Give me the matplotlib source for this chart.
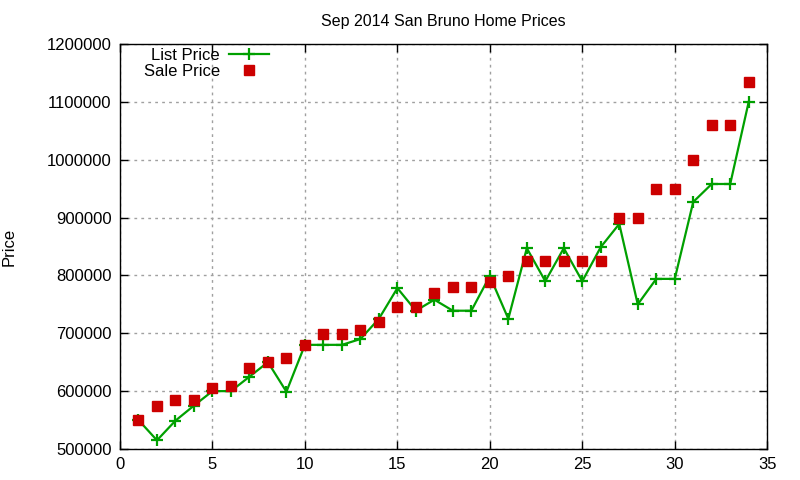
import matplotlib
matplotlib.use("Agg")
import matplotlib.pyplot as plt

plt.rcParams['font.family'] = ['Liberation Sans', 'DejaVu Sans']

x = list(range(1, 35))
list_price = [550000, 515000, 549000, 575000, 600000, 600000, 625000, 650000, 599000, 680000,
              680000, 680000, 690000, 725000, 778000, 739000, 758000, 739000, 739000, 799000,
              725000, 847000, 790000, 847000, 790000, 849000, 889000, 750000, 794000, 794000,
              927000, 958000, 958000, 1100000]
sale_price = [550000, 575000, 585000, 585000, 605000, 609000, 640000, 650000, 658000, 680000,
              699000, 699000, 705000, 720000, 745000, 745000, 769000, 780000, 780000, 789000,
              799000, 825000, 825000, 825000, 825000, 825000, 900000, 900000, 950000, 950000,
              1000000, 1060000, 1060000, 1135000]
xticks = [0, 5, 10, 15, 20, 25, 30, 35]
yticks = [500000, 600000, 700000, 800000, 900000, 1000000, 1100000, 1200000]

fig = plt.figure(figsize=(8, 4.8), dpi=100)
ax = fig.add_axes([0.15, 0.0646, 0.809, 0.8438])

ax.plot(x, list_price, color='#00a000', lw=1.6, marker='+', ms=9, mew=1.6, label='List Price')
ax.plot(x, sale_price, ls='none', color='#cc0000', marker='s', ms=7, label='Sale Price')

ax.set_xlim(0, 35)
ax.set_ylim(500000, 1200000)
ax.set_xticks(xticks)
ax.set_yticks(yticks)
ax.set_xticklabels([str(t) for t in xticks])
ax.set_yticklabels([str(t) for t in yticks])
ax.tick_params(direction='in', top=True, right=True, labelsize=12, length=6, width=1, pad=6)
ax.grid(True, color='#a0a0a0', ls=(0, (2, 3)), lw=1)
for s in ax.spines.values():
    s.set_linewidth(1)

ax.set_title('Sep 2014 San Bruno Home Prices', fontsize=11.5, pad=13)
ax.set_ylabel('Price', fontsize=12, labelpad=22)

leg = ax.legend(loc='upper left', bbox_to_anchor=(0.019, 1.02), frameon=False, markerfirst=False,
                fontsize=12, handlelength=2.4, handletextpad=0.55, labelspacing=0.08, borderpad=0.2)
leg._legend_handle_box.get_children()[0].align = 'right'

fig.savefig('out.png', dpi=100)
